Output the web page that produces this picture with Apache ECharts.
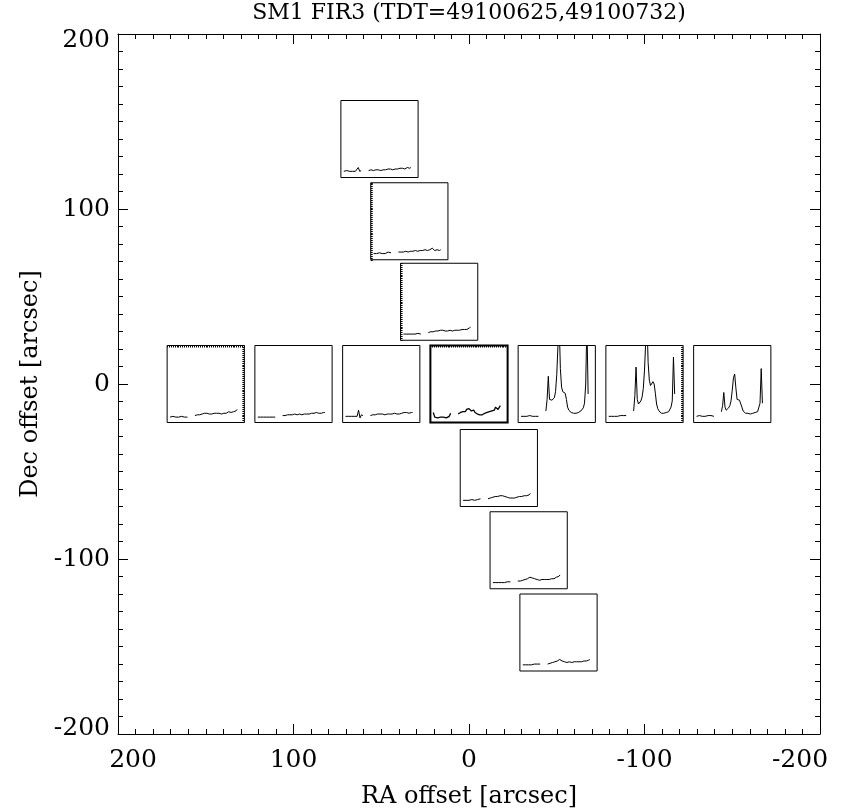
<!DOCTYPE html>
<html><head><meta charset="utf-8">
<script src="https://cdn.jsdelivr.net/npm/echarts@6/dist/echarts.min.js"></script>
<style>html,body{margin:0;padding:0;background:#fff}#c{width:850px;height:811px}</style>
</head><body><div id="c"></div>
<script>
// ---------- data ----------
const chartTitle = 'SM1 FIR3 (TDT=49100625,49100732)';
const xAxisName = 'RA offset [arcsec]';
const yAxisName = 'Dec offset [arcsec]';
const mainRange = [-200, 200];
const mainTickStep = 100;

// raster positions (arcsec)
const raOffsets  = [51, 34, 17, 150, 100, 50, 0, -50, -100, -150, -17, -34, -51];
const decOffsets = [140, 93, 47, 0, 0, 0, 0, 0, 0, 0, -48, -95, -142];
const boxHalfSize = 22; // arcsec, half side of each spectrum panel

// spectrum axes (wavelength, relative flux %)
const waveRange = [40, 200];
const fluxRange = [0, 100];
const shortWave = [46, 49, 52, 55, 58, 61, 64, 67, 70, 73, 76, 79, 82];
const longWave = [97.5, 100, 102.5, 105, 107.5, 110, 112.5, 115, 117.5, 120, 122.5, 125,
  127.5, 130, 132.5, 135, 137.5, 140, 142.5, 145, 147.5, 150, 152.5, 155,
  157.5, 160, 162.5, 165, 167.5, 170, 172.5, 175, 177.5, 180, 182.5, 185];

const shortFlux = [
  [8, 8, 9, 8, 8, 9, 8, 9, 8, 8, 13, 8, 9],
  [8, 8, 8, 8, 9, 8, 8, 9, 8, 9, 10, 12, 9],
  [8, 8, 8, 9, 8, 8, 8, 9, 8, 8, 9, 10, 8],
  [7, 7, 8, 7, 7, 8, 7, 7, 8, 7, 7, 8, 7],
  [7, 7, 7, 8, 7, 7, 7, 8, 7, 7, 7, 8, 7],
  [8, 8, 8, 9, 8, 9, 8, 9, 8, 16, 6, 10, 9],
  [13, 7, 7, 6, 7, 7, 6, 7, 7, 6, 7, 8, 12],
  [8, 8, 8, 9, 8, 8, 9, 8, 8, 9, 8, 9, 8],
  [8, 9, 8, 9, 8, 9, 8, 9, 9, 8, 9, 8, 9],
  [8, 8, 9, 8, 8, 9, 8, 8, 9, 8, 9, 8, 8],
  [8, 8, 8, 8, 8, 8, 9, 8, 8, 8, 9, 9, 10],
  [8, 8, 8, 8, 8, 9, 8, 8, 8, 9, 9, 10, 9],
  [8, 8, 8, 8, 8, 8, 8, 8, 9, 8, 9, 9, 9]
];

const longFlux = [
  [9, 9, 10, 9, 9, 10, 10, 9, 10, 10, 9, 10, 10, 11, 10, 10, 11, 10, 11, 11, 10, 11, 11, 12, 11, 11, 12, 11, 12, 12, 11, 12, 13, 12, 12, 13],
  [10, 10, 10, 11, 10, 10, 11, 11, 10, 11, 11, 12, 11, 11, 12, 12, 11, 12, 12, 13, 12, 12, 13, 12, 12, 12, 13, 14, 15, 13, 12, 12, 13, 13, 12, 13],
  [10, 10, 11, 11, 11, 12, 12, 13, 12, 13, 13, 14, 13, 13, 12, 13, 12, 12, 13, 13, 12, 13, 13, 14, 13, 12, 13, 13, 14, 13, 14, 15, 14, 15, 16, 17],
  [9, 9, 10, 10, 10, 11, 11, 11, 12, 12, 12, 12, 11, 11, 11, 12, 12, 11, 12, 13, 12, 12, 11, 12, 12, 13, 12, 13, 14, 13, 13, 14, 14, 13, 15, 17],
  [9, 9, 9, 10, 10, 10, 10, 11, 10, 10, 11, 11, 10, 11, 11, 11, 10, 11, 11, 12, 11, 12, 11, 12, 12, 11, 12, 12, 13, 12, 12, 13, 12, 12, 13, 13],
  [9, 10, 10, 10, 10, 11, 11, 10, 11, 11, 11, 11, 10, 11, 11, 10, 11, 11, 11, 11, 12, 11, 11, 12, 11, 12, 12, 12, 13, 12, 13, 12, 12, 14, 13, 13],
  [11, 10, 13, 12, 14, 15, 14, 17, 15, 18, 17, 15, 14, 16, 13, 12, 11, 11, 10, 11, 10, 11, 12, 11, 13, 12, 14, 12, 15, 13, 16, 20, 18, 17, 19, 22],
  [15, 30, 60, 30, 28, 29, 31, 32, 40, 62, 100, 130, 70, 46, 40, 39, 38, 30, 20, 16, 14, 13, 13, 12, 12, 12, 12, 13, 13, 15, 17, 19, 25, 50, 130, 37],
  [15, 35, 72, 30, 24, 25, 28, 33, 44, 68, 105, 135, 78, 55, 48, 50, 53, 50, 38, 24, 18, 15, 13, 12, 12, 12, 12, 13, 13, 14, 16, 20, 28, 85, 37, null],
  [14, 22, 39, 20, 16, 17, 19, 22, 28, 42, 58, 63, 45, 30, 28, 29, 27, 20, 15, 13, 12, 12, 12, 12, 11, 12, 12, 12, 13, 13, 14, 16, 25, 70, 25, null],
  [10, 10, 11, 11, 12, 12, 13, 14, 13, 13, 14, 15, 14, 13, 13, 12, 12, 11, 11, 12, 11, 12, 11, 12, 12, 12, 13, 12, 13, 13, 14, 13, 14, 15, 15, 17],
  [10, 10, 10, 11, 11, 12, 12, 13, 13, 14, 15, 14, 14, 13, 13, 12, 12, 12, 11, 11, 12, 11, 12, 12, 12, 13, 12, 13, 13, 14, 13, 14, 15, 15, 16, 18],
  [9, 10, 10, 10, 11, 11, 12, 12, 13, 14, 15, 14, 13, 13, 12, 12, 11, 11, 12, 11, 11, 12, 12, 12, 12, 13, 12, 13, 12, 13, 13, 14, 13, 14, 14, 15]
];

// ---------- styling ----------
const FONT = 'DejaVu Serif';
const INK = '#000';
const tickEdges = { 1: ['left'], 2: ['left'], 3: ['top', 'right'], 6: ['top'], 8: ['right'] };
const boldFrame = { 6: 2 };

const chart = echarts.init(document.getElementById('c'), null, { renderer: 'canvas' });
const mainGrid = { left: 118, right: 30, top: 34, bottom: 77, containLabel: false, outerBoundsMode: 'none' };

function mainAxis(isX, position, withLabels) {
  const a = {
    gridIndex: 0, type: 'value', position: position,
    min: mainRange[0], max: mainRange[1], interval: mainTickStep,
    axisLine: { show: true, onZero: false, lineStyle: { color: INK, width: 1 } },
    axisTick: { show: true, inside: true, length: 10, lineStyle: { color: INK, width: 1 } },
    minorTick: { show: true, splitNumber: 10, length: 5, lineStyle: { color: INK, width: 1 } },
    splitLine: { show: false },
    axisLabel: { show: withLabels, fontFamily: FONT, fontSize: 25, color: INK, margin: isX ? 14 : 8 }
  };
  if (isX) a.inverse = true;
  if (withLabels) {
    a.name = isX ? xAxisName : yAxisName;
    a.nameLocation = 'middle';
    a.nameGap = isX ? 51 : 68;
    a.nameTextStyle = { fontFamily: FONT, fontSize: 24, color: INK };
    if (!isX) {
      a.axisLabel.verticalAlignMaxLabel = 'top';
      a.axisLabel.verticalAlignMinLabel = 'bottom';
      a.axisLabel.lineHeight = 12;
    } else {
      a.axisLabel.formatter = v => v === mainRange[1] ? '{hi|' + v + '}' : (v === mainRange[0] ? '{lo|' + v + '}' : String(v));
      a.axisLabel.rich = {
        hi: { fontFamily: FONT, fontSize: 25, color: INK, padding: [0, 0, 0, 30] },
        lo: { fontFamily: FONT, fontSize: 25, color: INK, padding: [0, 40, 0, 0] }
      };
    }
  }
  return a;
}

const baseX = [mainAxis(true, 'bottom', true), mainAxis(true, 'top', false)];
const baseY = [mainAxis(false, 'left', true), mainAxis(false, 'right', false)];
chart.setOption({ animation: false, grid: [mainGrid], xAxis: baseX, yAxis: baseY, series: [] });

const grids = [mainGrid];
const xAxes = baseX.slice();
const yAxes = baseY.slice();
const series = [];

raOffsets.forEach((ra, i) => {
  const dec = decOffsets[i];
  const p1 = chart.convertToPixel({ gridIndex: 0 }, [ra + boxHalfSize, dec + boxHalfSize]);
  const p2 = chart.convertToPixel({ gridIndex: 0 }, [ra - boxHalfSize, dec - boxHalfSize]);
  const left = Math.min(p1[0], p2[0]), top = Math.min(p1[1], p2[1]);
  const width = Math.abs(p2[0] - p1[0]), height = Math.abs(p2[1] - p1[1]);
  const gi = grids.length;
  grids.push({ left, top, width, height, show: true, borderColor: INK, borderWidth: boldFrame[i] || 1,
    backgroundColor: 'transparent', containLabel: false, outerBoundsMode: 'none' });
  const edges = tickEdges[i] || [];
  const xEdge = edges.find(e => e === 'top' || e === 'bottom');
  const yEdge = edges.find(e => e === 'left' || e === 'right');
  const xi = xAxes.length, yi = yAxes.length;
  xAxes.push({
    gridIndex: gi, type: 'value', min: waveRange[0], max: waveRange[1], interval: 4,
    position: xEdge || 'bottom',
    axisLine: { show: false, onZero: false }, axisLabel: { show: false }, splitLine: { show: false },
    axisTick: { show: !!xEdge, inside: true, length: 2, lineStyle: { color: INK, width: 1 } }
  });
  yAxes.push({
    gridIndex: gi, type: 'value', min: fluxRange[0], max: fluxRange[1], interval: 2.5,
    position: yEdge || 'left',
    axisLine: { show: false, onZero: false }, axisLabel: { show: false }, splitLine: { show: false },
    axisTick: { show: !!yEdge, inside: true, length: 2, lineStyle: { color: INK, width: 1 } }
  });
  const segs = [[shortWave, shortFlux[i]], [longWave, longFlux[i]]];
  segs.forEach(([w, f]) => {
    const pts = [];
    w.forEach((x, k) => { if (f[k] !== null && f[k] !== undefined) pts.push([x, f[k]]); });
    series.push({
      type: 'line', xAxisIndex: xi, yAxisIndex: yi, data: pts, showSymbol: false, symbol: 'none',
      clip: true, silent: true,
      lineStyle: { color: INK, width: i === 6 ? 1.3 : 1 }
    });
  });
});

const tp = chart.convertToPixel({ gridIndex: 0 }, [0, mainRange[1]]);
chart.setOption({
  grid: grids, xAxis: xAxes, yAxis: yAxes, series: series,
  graphic: [{ type: 'text', x: tp[0], y: tp[1] - 21, silent: true,
    style: { text: chartTitle, fontFamily: FONT, fontSize: 22, fill: INK, align: 'center', verticalAlign: 'middle' } }]
});
</script></body></html>
